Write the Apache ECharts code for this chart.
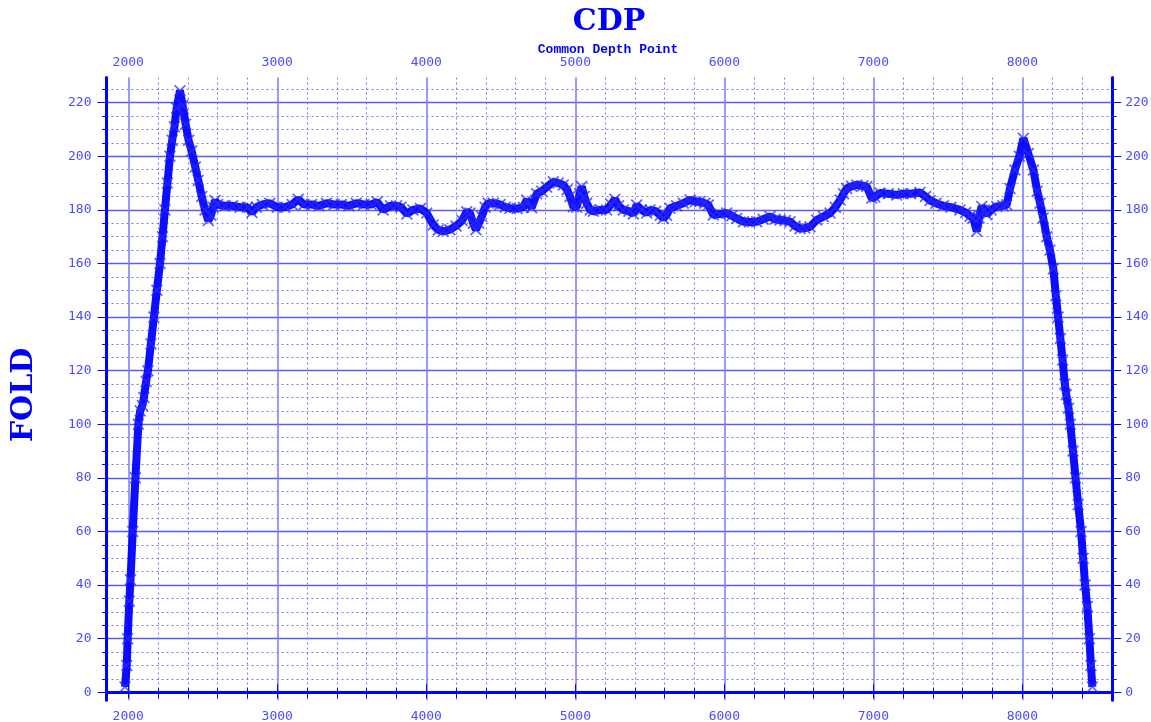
<!DOCTYPE html>
<html>
<head>
<meta charset="utf-8">
<script src="https://cdn.jsdelivr.net/npm/echarts@6/dist/echarts.min.js"></script>
<style>
  html, body { margin: 0; padding: 0; background: #fff; }
  #chart { width: 1151px; height: 722px; }
</style>
</head>
<body>
<div id="chart"></div>
<script>
// === Datos (CDP vs FOLD) =====================================================
const cdp = [
  1978, 1990, 1996, 2007, 2015, 2030, 2048, 2068, 2080, 2095, 2105, 2120, 2132, 2152, 2172, 2192,
  2213, 2230, 2246, 2263, 2280, 2295, 2310, 2325, 2347, 2365, 2385, 2405, 2425, 2450, 2470, 2493,
  2515, 2537, 2555, 2570, 2582, 2600, 2650, 2700, 2750, 2800, 2830, 2860, 2900, 2950, 3000, 3050,
  3100, 3140, 3180, 3230, 3280, 3330, 3380, 3430, 3480, 3530, 3580, 3630, 3670, 3710, 3760, 3800,
  3830, 3870, 3910, 3960, 4003, 4047, 4080, 4114, 4159, 4200, 4240, 4271, 4293, 4315, 4333, 4352,
  4372, 4395, 4416, 4450, 4495, 4530, 4562, 4610, 4651, 4674, 4707, 4741, 4775, 4808, 4852, 4885,
  4919, 4945, 4964, 4987, 5009, 5030, 5043, 5060, 5076, 5100, 5121, 5170, 5210, 5240, 5266, 5290,
  5322, 5360, 5389, 5412, 5445, 5479, 5501, 5540, 5570, 5591, 5612, 5635, 5680, 5725, 5770, 5805,
  5837, 5870, 5893, 5926, 5970, 6016, 6050, 6083, 6128, 6170, 6217, 6260, 6307, 6340, 6374, 6410,
  6441, 6475, 6508, 6540, 6575, 6620, 6665, 6710, 6745, 6777, 6800, 6821, 6855, 6889, 6930, 6956,
  6989, 7010, 7045, 7100, 7157, 7200, 7250, 7313, 7350, 7381, 7420, 7470, 7520, 7581, 7620, 7649,
  7670, 7694, 7710, 7727, 7745, 7761, 7790, 7828, 7870, 7895, 7917, 7950, 7980, 8007, 8040, 8074,
  8100, 8119, 8140, 8164, 8185, 8208, 8225, 8240, 8255, 8270, 8285, 8295, 8310, 8322, 8340, 8357,
  8375, 8394, 8408, 8421, 8436, 8450, 8460, 8470
];
const fold = [
  2, 10, 20, 34, 42, 60, 80, 100, 105, 107, 110, 116, 120, 130, 140, 150,
  160, 170, 180, 190, 200, 206, 211, 218, 224.5, 219, 212, 206, 202, 196, 191, 185,
  180, 176, 178, 181, 183.5, 182, 181.5, 181.5, 181, 181, 179, 181, 182, 182.5, 181, 181,
  182, 184, 182, 182, 181.5, 182.5, 182, 182, 181.5, 182.5, 182, 182, 183, 180, 181.5, 181.5,
  181, 178.5, 180, 180.5, 178.8, 174.4, 172.5, 172, 172.6, 174, 176, 179.3, 178.8, 175, 172.6, 175,
  177.5, 181, 182.5, 182.5, 182, 181, 180.6, 180.5, 181, 183.7, 180.8, 186, 187, 188.5, 190.5, 190,
  189.3, 187.5, 185, 181.2, 181, 186, 188.7, 185, 182.5, 180, 179.5, 180, 180, 182, 184, 181.5,
  180, 179.5, 178.5, 181.8, 180, 178.8, 180, 179.5, 178, 176.8, 178, 180.6, 181.5, 182.5, 183.7, 183,
  183.1, 182.5, 181.8, 178.1, 178.5, 178.8, 177.8, 176.8, 175.6, 175.5, 175.6, 176.5, 177.5, 176.5, 176.2, 176,
  175.6, 174, 173, 173.2, 173.7, 176.2, 177.5, 178.8, 181, 183.7, 186, 188, 188.8, 189.3, 189, 188.7,
  184.4, 184.8, 186.3, 186, 185.6, 186, 186, 186.5, 185, 183.5, 182.5, 181.5, 181, 180, 179, 177.6,
  177, 172, 177, 181.3, 180, 178.2, 180, 181.3, 181.5, 181.9, 188, 194.9, 200, 206.7, 201, 194.9,
  187, 182.5, 177, 170, 165, 158, 148, 140, 132, 124, 115, 111, 106, 100, 90, 80,
  70, 60, 50, 40, 32, 20, 10, 2
];

// === Ejes / ticks ============================================================
const xMin = 1854, xMax = 8603;
const yMin = -3, yMax = 229.4;
const xMajor = [2000, 3000, 4000, 5000, 6000, 7000, 8000];
const yMajor = [0, 20, 40, 60, 80, 100, 120, 140, 160, 180, 200, 220];
const range = (a, b, s) => { const r = []; for (let v = a; v <= b; v += s) r.push(v); return r; };
const xMinor = range(2000, 8400, 200).filter(v => !xMajor.includes(v));
const yMinor = range(0, 225, 5).filter(v => !yMajor.includes(v));

// === Paleta ==================================================================
const blue = '#0000ff', labelBlue = '#4b4bff';
const tickFont = { color: labelBlue, fontFamily: 'DejaVu Sans Mono', fontSize: 13, formatter: v => String(v) };

const frame = { show: true, lineStyle: { color: blue, width: 3 } };
const noLine = { show: false };
const solidY = { show: true, lineStyle: { color: '#5a5aff', width: 1.4, type: 'solid' } };
const solidX = { show: true, lineStyle: { color: '#8080ff', width: 1.6, type: 'solid' } };
const dotted = { show: true, lineStyle: { color: '#7878ff', width: 1, type: [2, 3] } };

// eje genérico: ticks y etiquetas por customValues, grilla sigue a los ticks
function axis(kind, pos, ticks, len, labels, margin, line, split) {
  const isX = kind === 'x';
  return {
    type: 'value', position: pos, offset: 0,
    min: isX ? xMin : yMin, max: isX ? xMax : yMax,
    axisLine: line ? frame : noLine,
    axisTick: { show: true, customValues: ticks, length: len, lineStyle: { color: blue, width: 1 } },
    axisLabel: labels ? { show: true, customValues: labels, margin, ...tickFont } : { show: false },
    splitLine: split || { show: false }
  };
}

const cross = 'path://M0,1L1,0L5,4L9,0L10,1L6,5L10,9L9,10L5,6L1,10L0,9L4,5Z';

const option = {
  animation: false,
  grid: { left: 106.5, right: 38.8, top: 77.5, bottom: 21.7, containLabel: false, outerBoundsMode: 'none' },
  xAxis: [
    axis('x', 'bottom', [...xMajor, ...xMinor], 6, xMajor, 10, true),
    axis('x', 'top', xMinor, 4.5, null, 0, false, dotted),
    axis('x', 'top', xMajor, 8, xMajor, 8, true, solidX)
  ],
  yAxis: [
    axis('y', 'left', yMajor, 9, yMajor, 15, true),
    axis('y', 'left', yMinor, 4.5, null, 0, false, dotted),
    axis('y', 'right', yMinor, 4.5, null, 0, false),
    axis('y', 'right', yMajor, 9, yMajor, 13, true, solidY)
  ],
  graphic: [
    { type: 'text', x: 609, y: 22, style: { text: 'CDP', align: 'center', verticalAlign: 'middle',
      font: 'bold 30px "DejaVu Serif"', fill: blue } },
    { type: 'text', x: 608, y: 50, style: { text: 'Common Depth Point', align: 'center', verticalAlign: 'middle',
      font: 'bold 13px "Liberation Mono"', fill: blue } },
    { type: 'text', x: 24, y: 395, rotation: Math.PI / 2, style: { text: 'FOLD', align: 'center', verticalAlign: 'middle',
      font: 'bold 30px "DejaVu Serif"', fill: blue } }
  ],
  series: [
    {
      type: 'line', z: 3,
      data: cdp.map((c, i) => [c, fold[i]]),
      showAllSymbol: true, symbol: cross, symbolSize: 12,
      itemStyle: { color: '#2a2aff', opacity: 0.75 },
      lineStyle: { color: blue, width: 8, opacity: 0.95 }
    }
  ]
};

const chart = echarts.init(document.getElementById('chart'));
chart.setOption(option);
</script>
</body>
</html>
